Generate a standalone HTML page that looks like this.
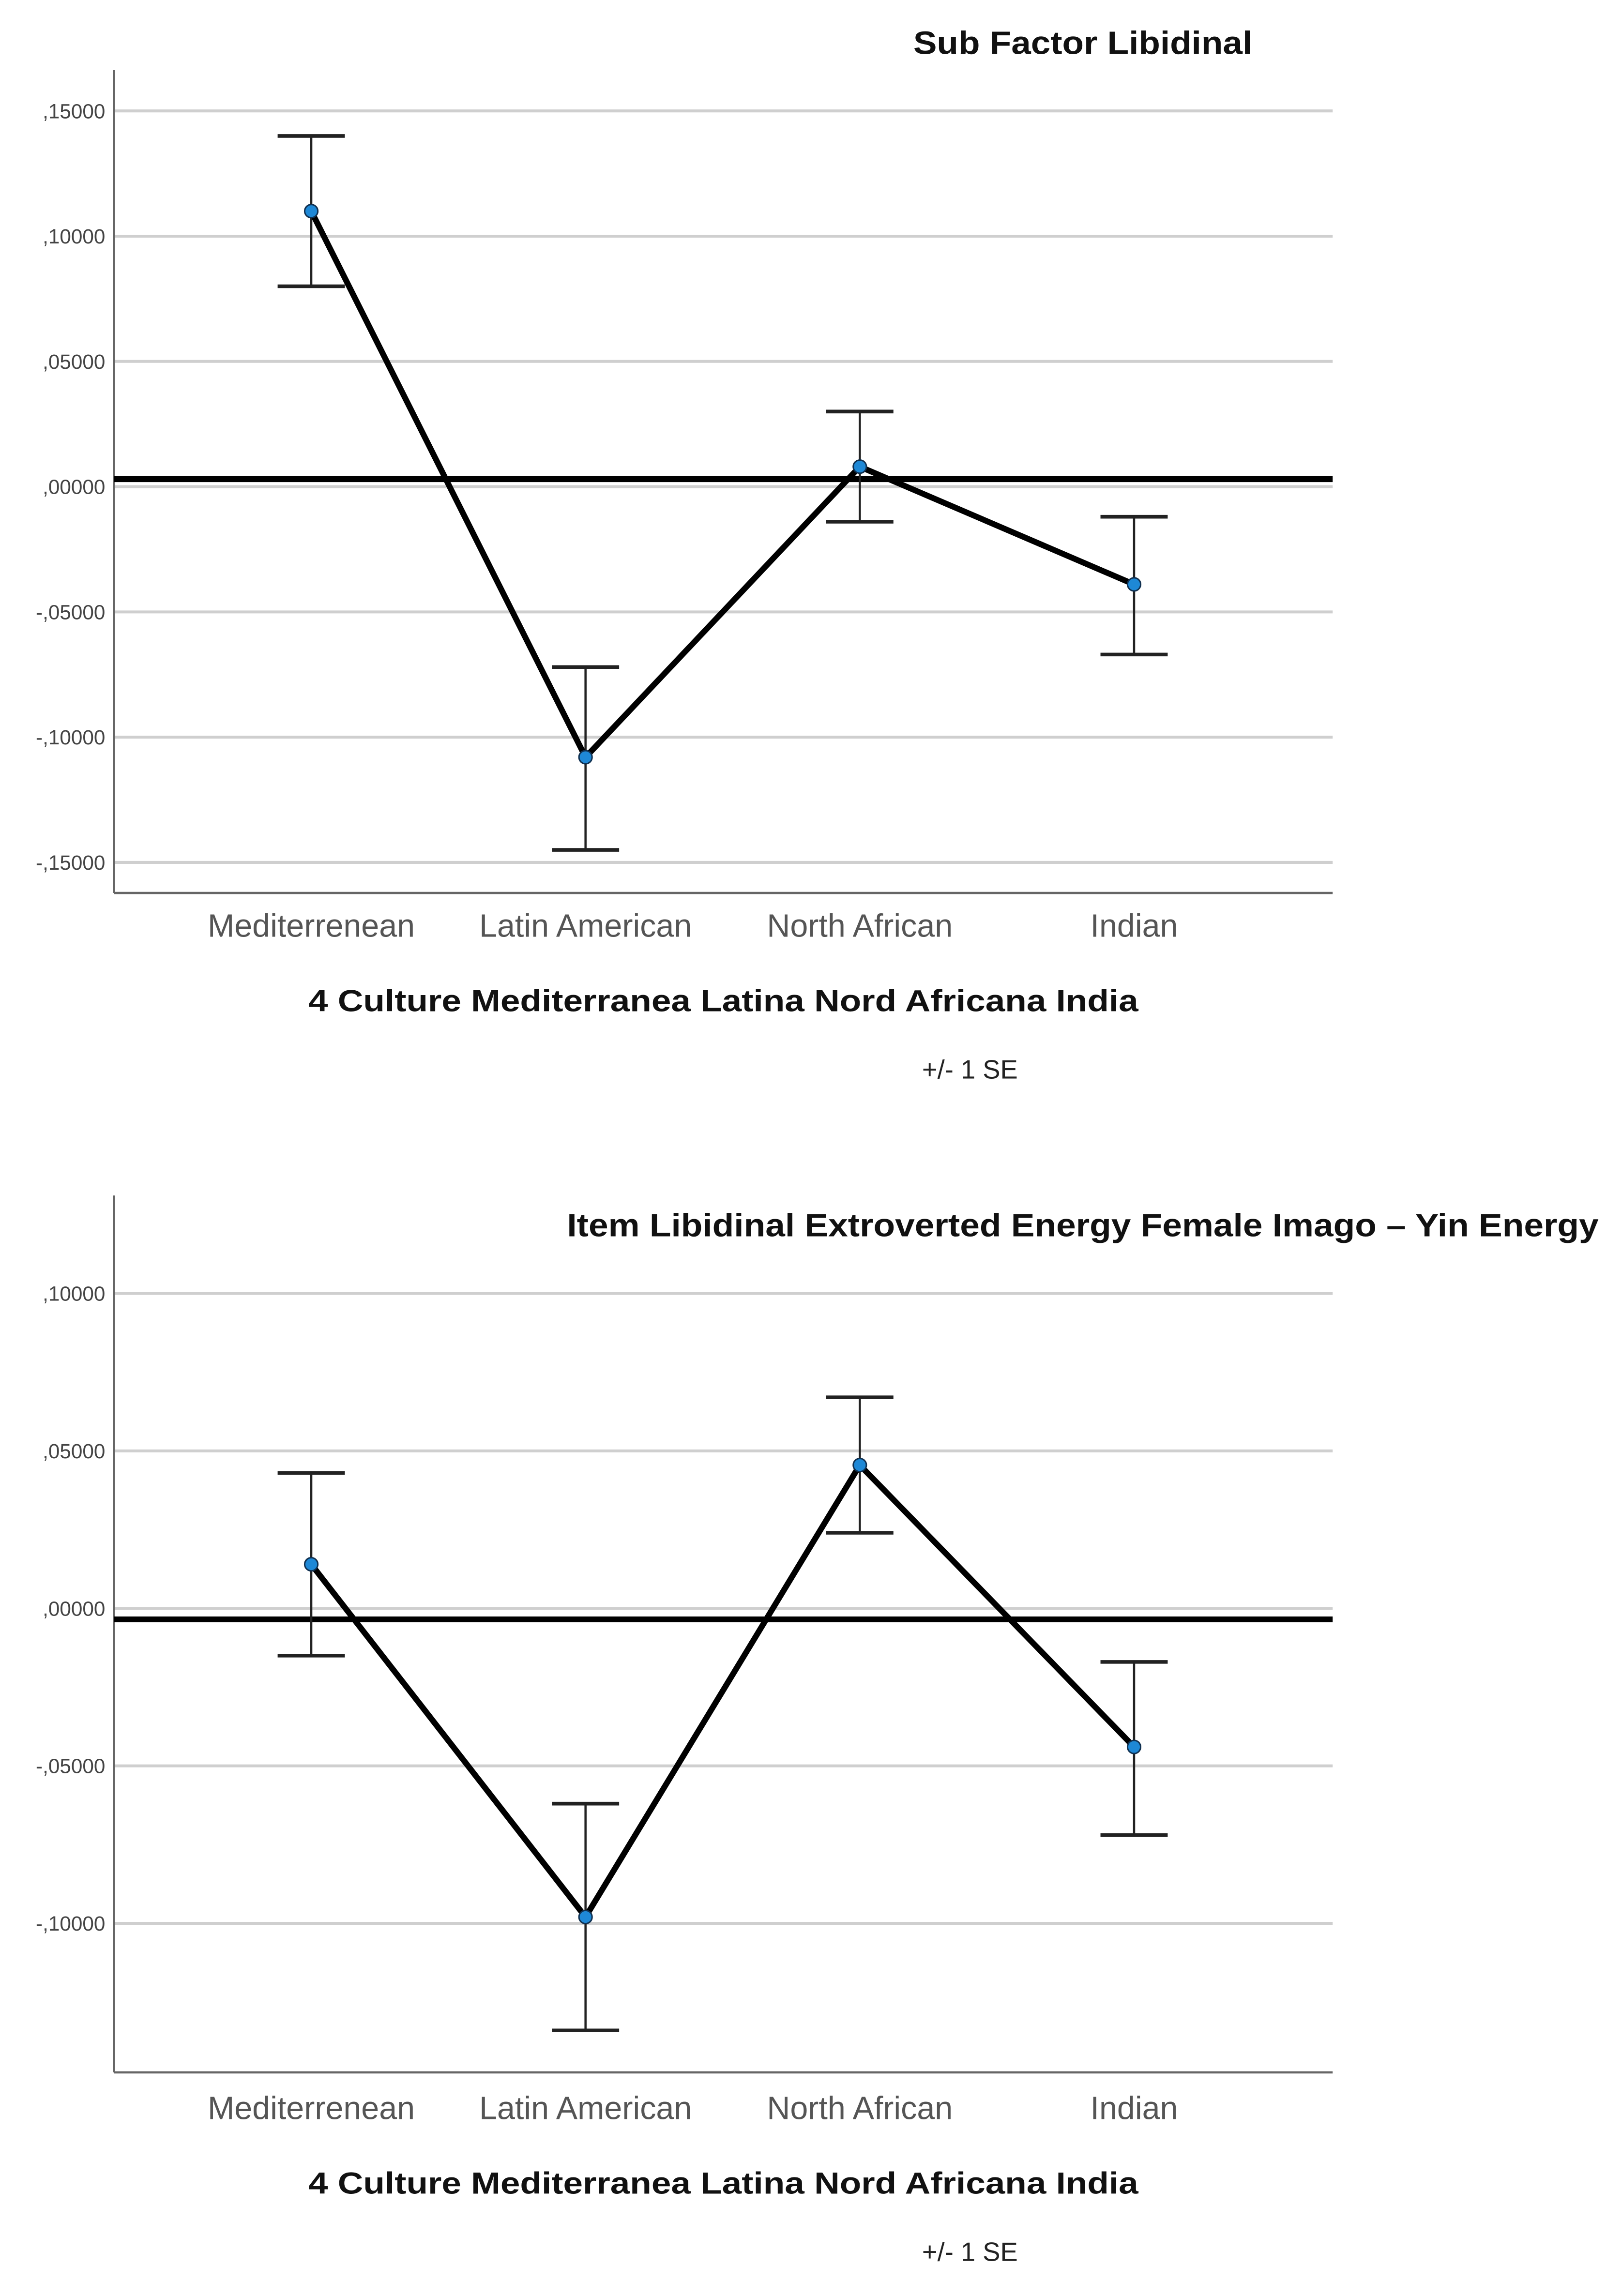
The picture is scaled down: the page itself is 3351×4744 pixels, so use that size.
<!DOCTYPE html>
<html><head><meta charset="utf-8"><style>
html,body{margin:0;padding:0;background:#fff;}
svg{display:block;}
text{font-family:"Liberation Sans",sans-serif;}
</style></head><body>
<svg id="root" width="3351" height="4744" viewBox="0 0 1110 1571" preserveAspectRatio="none" xmlns="http://www.w3.org/2000/svg">
<rect width="1110" height="1571" fill="#fff"/>
</svg>
<script>
const categories = ["Mediterrenean","Latin American","North African","Indian"];
const c1Means = [0.110, -0.108, 0.008, -0.039];
const c1Upper = [0.140, -0.072, 0.030, -0.012];
const c1Lower = [0.080, -0.145, -0.014, -0.067];
const c1Ref = 0.003;
const c1Ticks = [0.15,0.10,0.05,0.00,-0.05,-0.10,-0.15];
const c1TickLabels = [",15000",",10000",",05000",",00000","-,05000","-,10000","-,15000"];
const c2Means = [0.014, -0.098, 0.0455, -0.044];
const c2Upper = [0.043, -0.062, 0.067, -0.017];
const c2Lower = [-0.015, -0.134, 0.024, -0.072];
const c2Ref = -0.0035;
const c2Ticks = [0.10,0.05,0.00,-0.05,-0.10];
const c2TickLabels = [",10000",",05000",",00000","-,05000","-,10000"];

const NS="http://www.w3.org/2000/svg";
const root=document.getElementById('root');
function mk(tag,attrs,parent){const e=document.createElementNS(NS,tag);for(const k in attrs)e.setAttribute(k,attrs[k]);(parent||root).appendChild(e);return e;}

function drawChart(cfg){
  const g=mk('g',{});
  
  
  const y=v=>cfg.y0-(v)*cfg.pxPerUnit;
  const x=i=>cfg.xs0+i*cfg.xstep;
  cfg.ticks.forEach((t,i)=>{
    const l=mk('line',{x1:cfg.left,x2:cfg.right,y1:y(t),y2:y(t),stroke:'#cfcfcf','stroke-width':2},g);
    
    
    const tx=mk('text',{x:72,y:y(t)+5,'text-anchor':'end','font-size':14,fill:'#444'},g);
    tx.textContent=cfg.tickLabels[i];
    
    
  });
  const ya=mk('line',{x1:cfg.left,x2:cfg.left,y1:cfg.top,y2:cfg.bottom,stroke:'#666','stroke-width':1.5},g);
  
  
  const xa=mk('line',{x1:cfg.left,x2:cfg.right,y1:cfg.bottom,y2:cfg.bottom,stroke:'#666','stroke-width':1.5},g);
  
  
  const rl=mk('line',{x1:cfg.left,x2:cfg.right,y1:y(cfg.ref),y2:y(cfg.ref),stroke:'#000','stroke-width':4},g);
  
  
  cfg.means.forEach((m,i)=>{
    const eb=mk('g',{},g);
    
    
    mk('line',{x1:x(i),x2:x(i),y1:y(cfg.upper[i]),y2:y(cfg.lower[i]),stroke:'#222','stroke-width':1.5},eb);
    mk('line',{x1:x(i)-23,x2:x(i)+23,y1:y(cfg.upper[i]),y2:y(cfg.upper[i]),stroke:'#222','stroke-width':2.5},eb);
    mk('line',{x1:x(i)-23,x2:x(i)+23,y1:y(cfg.lower[i]),y2:y(cfg.lower[i]),stroke:'#222','stroke-width':2.5},eb);
  });
  const pts=cfg.means.map((m,i)=>x(i)+','+y(m)).join(' ');
  const pl=mk('polyline',{points:pts,fill:'none',stroke:'#000','stroke-width':4,'stroke-linejoin':'round'},g);
  
  
  cfg.means.forEach((m,i)=>{
    const c=mk('circle',{cx:x(i),cy:y(m),r:4.5,fill:'#1e88d6',stroke:'#103050','stroke-width':1},g);
    
    
  });
  categories.forEach((c,i)=>{
    const t=mk('text',{x:x(i),y:cfg.catY,'text-anchor':'middle','font-size':22,fill:'#555'},g);
    t.textContent=c;
    
    
  });
  const at=mk('text',{x:495,y:cfg.catY+51,'text-anchor':'middle','font-size':21,'font-weight':'bold',fill:'#111',textLength:568,lengthAdjust:'spacingAndGlyphs'},g);
  at.textContent='4 Culture Mediterranea Latina Nord Africana India';
  
  
  const se=mk('text',{x:631,y:cfg.catY+97,'font-size':18,fill:'#222'},g);
  se.textContent='+/- 1 SE';
  
  
  const ti=mk('text',{x:cfg.titleX,y:cfg.titleY,'font-size':22,'font-weight':'bold',fill:'#111',textLength:cfg.titleLen,lengthAdjust:'spacingAndGlyphs'},g);
  ti.textContent=cfg.title;
  
  
}

drawChart({name:'chart-sub-factor-libidinal',title:'Sub Factor Libidinal',titleX:625,titleY:37,titleLen:232,
  y0:333,pxPerUnit:1714,left:78,right:912,top:48,bottom:611,xs0:213,xstep:187.7,catY:641,
  ticks:c1Ticks,tickLabels:c1TickLabels,means:c1Means,upper:c1Upper,lower:c1Lower,ref:c1Ref});
drawChart({name:'chart-item-libidinal-yin',title:'Item Libidinal Extroverted Energy Female Imago – Yin Energy',titleX:388,titleY:846,titleLen:706,
  y0:1100.5,pxPerUnit:2155,left:78,right:912,top:818,bottom:1418,xs0:213,xstep:187.7,catY:1450,
  ticks:c2Ticks,tickLabels:c2TickLabels,means:c2Means,upper:c2Upper,lower:c2Lower,ref:c2Ref});
</script>
</body></html>
